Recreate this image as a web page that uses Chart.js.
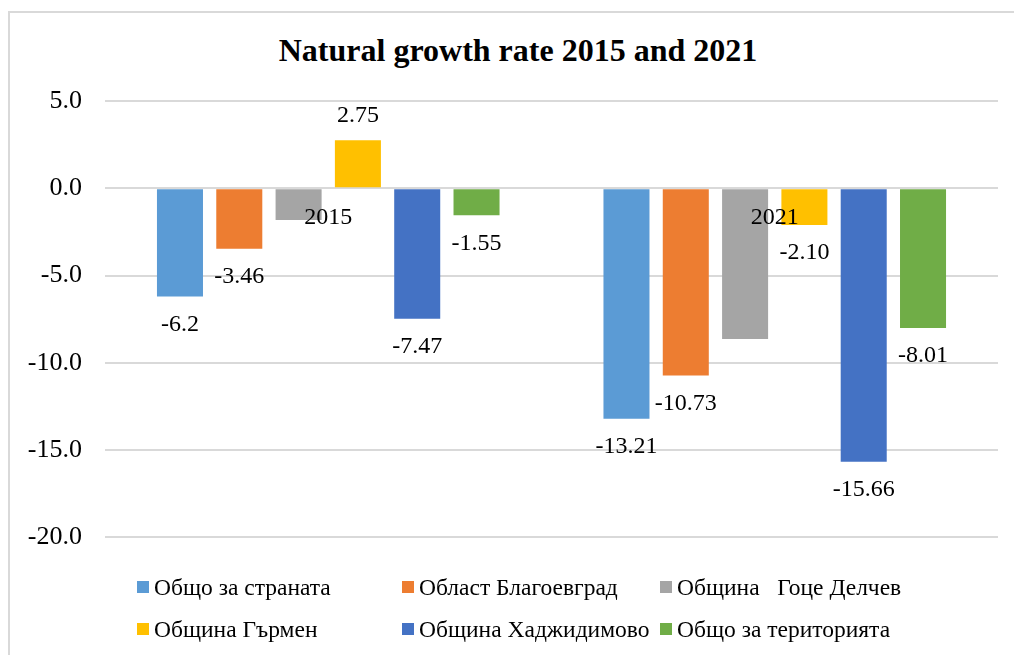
<!DOCTYPE html>
<html lang="bg">
<head>
<meta charset="utf-8">
<title>Natural growth rate 2015 and 2021</title>
<script src="https://cdn.jsdelivr.net/npm/chart.js@4.4.1/dist/chart.umd.min.js"></script>
<style>
  html, body { margin: 0; padding: 0; background: #fff; overflow: hidden; }
  body { width: 1014px; height: 655px; position: relative; font-family: 'Liberation Serif', 'Times New Roman', serif; }
  .frame { position: absolute; left: 8px; top: 11px; width: 1100px; height: 720px; border: 2px solid #d9d9d9; box-sizing: border-box; }
  .chart-title { position: absolute; left: 0; top: 31px; width: 1036px; margin: 0; text-align: center; font-size: 32px; line-height: 38.4px; font-weight: bold; color: #000; }
  .chart-box { position: absolute; left: 0; top: 0; width: 1014px; height: 576px; }
  .legend { position: absolute; left: 137px; top: 566px; display: grid; grid-template-columns: 265px 258px auto; }
  .legend-item { display: flex; align-items: center; height: 42px; font-size: 23.5px; color: #000; white-space: pre; }
  .legend-swatch { width: 12px; height: 12px; margin-right: 5px; flex: none; }
</style>
</head>
<body>
<div class="frame"></div>
<h1 class="chart-title">Natural growth rate 2015 and 2021</h1>
<div class="chart-box"><canvas id="growthChart"></canvas></div>
<div class="legend" id="growthLegend"></div>

<script>
// Естествен прираст 2015 и 2021 (на 1000 души)
const CATEGORIES = ['2015', '2021'];

const SERIES_NAMES = [
  'Общо за страната',
  'Област Благоевград',
  'Община   Гоце Делчев',
  'Община Гърмен',
  'Община Хаджидимово',
  'Общо за територията'
];
const SERIES_COLORS = ['#5B9BD5', '#ED7D31', '#A5A5A5', '#FFC000', '#4472C4', '#70AD47'];

const STRANA = [-6.2, -13.21];
const BLAGOEVGRAD = [-3.46, -10.73];
const GOTSE_DELCHEV = [-1.81, -8.64];
const GARMEN = [2.75, -2.10];
const HADZHIDIMOVO = [-7.47, -15.66];
const TERITORIA = [-1.55, -8.01];

// надписи над/под колоните (Гоце Делчев е без надписи в оригинала)
const STRANA_LABELS = ['-6.2', '-13.21'];
const BLAGOEVGRAD_LABELS = ['-3.46', '-10.73'];
const GOTSE_DELCHEV_LABELS = null;
const GARMEN_LABELS = ['2.75', '-2.10'];
const HADZHIDIMOVO_LABELS = ['-7.47', '-15.66'];
const TERITORIA_LABELS = ['-1.55', '-8.01'];

const Y_MIN = -20;
const Y_MAX = 5;
const Y_STEP = 5;

const FONT = "'Liberation Serif', 'Times New Roman', serif";

(function () {
  'use strict';

  var seriesData = [STRANA, BLAGOEVGRAD, GOTSE_DELCHEV, GARMEN, HADZHIDIMOVO, TERITORIA];
  var seriesLabels = [STRANA_LABELS, BLAGOEVGRAD_LABELS, GOTSE_DELCHEV_LABELS, GARMEN_LABELS, HADZHIDIMOVO_LABELS, TERITORIA_LABELS];

  function renderLegend() {
    var box = document.getElementById('growthLegend');
    SERIES_NAMES.forEach(function (name, i) {
      var item = document.createElement('div');
      item.className = 'legend-item';
      var sw = document.createElement('span');
      sw.className = 'legend-swatch';
      sw.style.background = SERIES_COLORS[i];
      var txt = document.createElement('span');
      txt.textContent = name;
      item.appendChild(sw);
      item.appendChild(txt);
      box.appendChild(item);
    });
  }

  // стойности при края на колоните + имената на годините при нулата
  var barLabels = {
    id: 'barLabels',
    afterDatasetsDraw: function (chart) {
      var ctx = chart.ctx;
      ctx.save();
      ctx.fillStyle = '#000';
      ctx.textAlign = 'center';
      ctx.textBaseline = 'middle';
      ctx.font = '24px ' + FONT;
      chart.data.datasets.forEach(function (ds, i) {
        if (!ds.valueLabels) return;
        chart.getDatasetMeta(i).data.forEach(function (bar, j) {
          var y = ds.data[j] < 0 ? bar.y + 28 : bar.y - 25;
          ctx.fillText(ds.valueLabels[j], bar.x, y);
        });
      });
      var xs = chart.scales.x;
      var y0 = chart.scales.y.getPixelForValue(0);
      CATEGORIES.forEach(function (c, k) {
        ctx.fillText(c, xs.getPixelForValue(k), y0 + 29);
      });
      ctx.restore();
    }
  };

  function initChart() {
    var ctx = document.getElementById('growthChart').getContext('2d');
    new Chart(ctx, {
      type: 'bar',
      data: {
        labels: CATEGORIES,
        datasets: SERIES_NAMES.map(function (name, i) {
          return {
            label: name,
            data: seriesData[i],
            valueLabels: seriesLabels[i],
            backgroundColor: SERIES_COLORS[i],
            borderWidth: 0,
            categoryPercentage: 0.797,
            barPercentage: 0.776
          };
        })
      },
      options: {
        responsive: true,
        maintainAspectRatio: false,
        animation: false,
        layout: { padding: { left: 0, right: 16, top: 101, bottom: 18 } },
        plugins: {
          legend: { display: false },
          tooltip: { enabled: false },
          title: { display: false }
        },
        scales: {
          x: { display: false },
          y: {
            min: Y_MIN,
            max: Y_MAX,
            border: { display: false },
            grid: { color: '#d9d9d9', lineWidth: 2, drawTicks: false },
            ticks: {
              stepSize: Y_STEP,
              padding: 23,
              color: '#000',
              font: { family: FONT, size: 26 },
              callback: function (v) { return Number(v).toFixed(1); }
            },
            afterFit: function (scale) { scale.width = 105; }
          }
        }
      },
      plugins: [barLabels]
    });
  }

  renderLegend();
  initChart();
})();
</script>
</body>
</html>
